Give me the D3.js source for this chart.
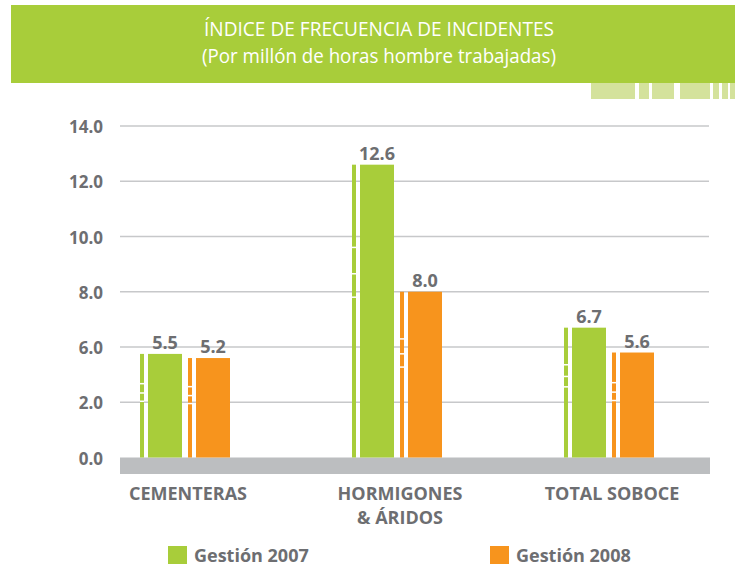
<!DOCTYPE html>
<meta charset="utf-8">
<script src="https://d3js.org/d3.v7.min.js"></script>
<style>
body { margin: 0; background: #fff; }
text { font-family: "Open Sans", sans-serif; }
.grid line { stroke: #c7c8ca; stroke-width: 1.5; }
.lbl { fill: #6d6e71; font-weight: bold; }
</style>
<body>
<script>

// data
var categories = ["CEMENTERAS", "HORMIGONES\n& ÁRIDOS", "TOTAL SOBOCE"];
var series = ["Gestión 2007", "Gestión 2008"];
var values2007 = [5.5, 12.6, 6.7];
var values2008 = [5.2, 8.0, 5.6];
var tickValues = [0, 2, 6, 8, 10, 12, 14];
var tickLabels = ["0.0", "2.0", "6.0", "8.0", "10.0", "12.0", "14.0"];
var colors = ["#a8cd3a", "#f7941d"];

var width = 735, height = 568;
var y0 = 457.5, gridStep = 55.25;

var svg = d3.select("body").append("svg")
    .attr("width", width)
    .attr("height", height);

// header banner
svg.append("rect")
    .attr("x", 11).attr("y", 5)
    .attr("width", width - 11).attr("height", 78)
    .attr("fill", "#a8cd3a");

svg.append("text")
    .attr("x", 379).attr("y", 36)
    .attr("text-anchor", "middle")
    .attr("fill", "#fff")
    .attr("font-size", 19.5)
    .attr("textLength", 350)
    .attr("lengthAdjust", "spacingAndGlyphs")
    .text("ÍNDICE DE FRECUENCIA DE INCIDENTES");

svg.append("text")
    .attr("x", 379).attr("y", 63)
    .attr("text-anchor", "middle")
    .attr("fill", "#fff")
    .attr("font-size", 19.5)
    .attr("textLength", 354)
    .attr("lengthAdjust", "spacingAndGlyphs")
    .text("(Por millón de horas hombre trabajadas)");

// little decorative blocks under the banner
var deco = [[591, 44], [639, 10], [652, 22], [680, 30], [713, 6], [722, 6], [730, 5]];
svg.selectAll(".deco").data(deco).enter().append("rect")
    .attr("x", function(d) { return d[0]; })
    .attr("y", 83)
    .attr("width", function(d) { return d[1]; })
    .attr("height", 16)
    .attr("fill", "#d4e29c");

// scales
var y = d3.scaleLinear()
    .domain(tickValues)
    .range(tickValues.map(function(d, i) { return y0 - i * gridStep; }));

var x0 = d3.scaleBand().domain(categories).range([79, 715]);
var x1 = d3.scaleBand().domain(series).range([0, 96]);
var groupOffset = (x0.bandwidth() - 90) / 2;

// grid + tick labels
var grid = svg.append("g").attr("class", "grid");
grid.selectAll("line").data(tickValues.slice(1)).enter().append("line")
    .attr("x1", 120).attr("x2", 709)
    .attr("y1", function(d) { return y(d); })
    .attr("y2", function(d) { return y(d); });

svg.selectAll(".tick").data(tickValues).enter().append("text")
    .attr("class", "lbl")
    .attr("x", 103)
    .attr("y", function(d) { return y(d) + 7; })
    .attr("text-anchor", "end")
    .attr("font-size", 17)
    .text(function(d, i) { return tickLabels[i]; });

// grey base
svg.append("rect")
    .attr("x", 120).attr("y", y0)
    .attr("width", 590).attr("height", 16.5)
    .attr("fill", "#bcbec0");

// bars
var rows = [];
categories.forEach(function(c, i) {
    rows.push({cat: c, s: series[0], v: values2007[i], color: colors[0]});
    rows.push({cat: c, s: series[1], v: values2008[i], color: colors[1]});
});

var bar = svg.selectAll(".bar").data(rows).enter().append("g")
    .attr("transform", function(d) {
        return "translate(" + (x0(d.cat) + groupOffset + x1(d.s)) + ",0)";
    });

// thin stripe at the left of each bar
bar.append("rect")
    .attr("x", 0).attr("width", 4)
    .attr("y", function(d) { return y(d.v); })
    .attr("height", function(d) { return y0 - y(d.v); })
    .attr("fill", function(d) { return d.color; });

// white notches in the stripe
bar.selectAll(".notch").data(function(d) {
        var h = y0 - y(d.v);
        return [0.28, 0.37, 0.45].map(function(f) { return y(d.v) + f * h; });
    }).enter().append("rect")
    .attr("x", 0).attr("width", 4)
    .attr("y", function(d) { return d; })
    .attr("height", 1.5)
    .attr("fill", "#fff");

bar.append("rect")
    .attr("x", 8).attr("width", 34)
    .attr("y", function(d) { return y(d.v); })
    .attr("height", function(d) { return y0 - y(d.v); })
    .attr("fill", function(d) { return d.color; });

bar.append("text")
    .attr("class", "lbl")
    .attr("x", 25)
    .attr("y", function(d) { return y(d.v) - 5; })
    .attr("text-anchor", "middle")
    .attr("font-size", 18)
    .text(function(d) { return d.v.toFixed(1); });

// category labels
svg.selectAll(".cat").data(categories).enter().append("text")
    .attr("class", "lbl")
    .attr("text-anchor", "middle")
    .attr("font-size", 18)
    .attr("y", 500)
    .each(function(d) {
        var t = d3.select(this);
        var cx = x0(d) + x0.bandwidth() / 2 + 3;
        d.split("\n").forEach(function(line, i) {
            t.append("tspan").attr("x", cx).attr("dy", i ? 24 : 0).text(line);
        });
    });

// legend
var legX = [168, 490];
var leg = svg.selectAll(".leg").data(series).enter().append("g")
    .attr("transform", function(d, i) { return "translate(" + legX[i] + ",546)"; });

leg.append("rect")
    .attr("width", 19).attr("height", 18)
    .attr("fill", function(d, i) { return colors[i]; });

leg.append("text")
    .attr("class", "lbl")
    .attr("x", 26).attr("y", 16)
    .attr("font-size", 18)
    .text(function(d) { return d; });

</script>
</body>
</html>
